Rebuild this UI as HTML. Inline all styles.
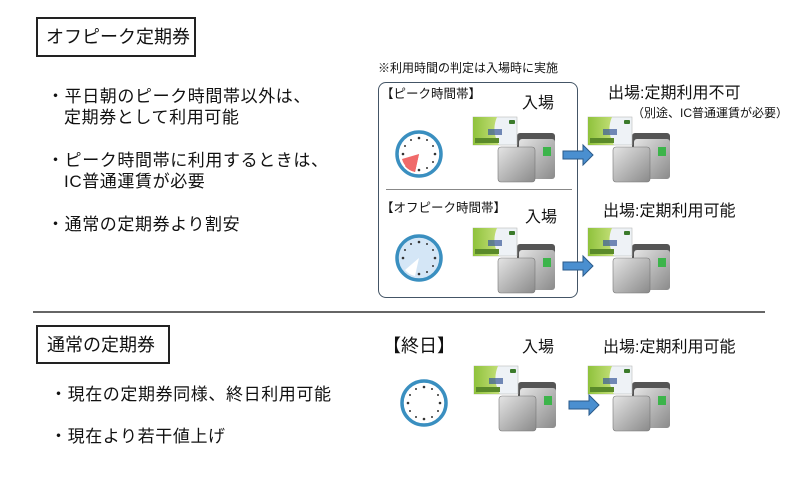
<!DOCTYPE html>
<html><head><meta charset="utf-8"><style>
body{margin:0;width:800px;height:489px;background:#fff;position:relative;overflow:hidden;font-family:"Liberation Sans","Noto Sans CJK JP",sans-serif;color:#111}
.t{position:absolute;white-space:nowrap;line-height:1}
.b{font-size:17px;letter-spacing:0.6px}
.box{position:absolute;border:2px solid #222;box-sizing:border-box}
</style></head><body>
<div class="box" style="left:36px;top:17px;width:160px;height:40px"></div>
<div class="t" style="left:46px;top:28px;font-size:18px">オフピーク定期券</div>
<div class="t b" style="left:47px;top:88px">・平日朝のピーク時間帯以外は、</div>
<div class="t b" style="left:64px;top:109px">定期券として利用可能</div>
<div class="t b" style="left:47px;top:152px">・ピーク時間帯に利用するときは、</div>
<div class="t b" style="left:64px;top:173px">IC普通運賃が必要</div>
<div class="t b" style="left:47px;top:216px">・通常の定期券より割安</div>
<div style="position:absolute;left:33px;top:311px;width:732px;height:2px;background:#666"></div>
<div class="box" style="left:36px;top:325px;width:134px;height:39px"></div>
<div class="t" style="left:47px;top:336px;font-size:18px">通常の定期券</div>
<div class="t b" style="left:50px;top:386px">・現在の定期券同様、終日利用可能</div>
<div class="t b" style="left:50px;top:428px">・現在より若干値上げ</div>

<div class="t" style="left:378px;top:62px;font-size:12px">※利用時間の判定は入場時に実施</div>
<div style="position:absolute;left:378px;top:82px;width:200px;height:216px;border:1.5px solid #456;border-radius:8px;box-sizing:border-box"></div>
<div style="position:absolute;left:386px;top:189px;width:186px;height:1px;background:#888"></div>
<div class="t" style="left:381px;top:88px;font-size:12.5px">【ピーク時間帯】</div>
<div class="t" style="left:381px;top:202px;font-size:12.5px">【オフピーク時間帯】</div>
<div class="t" style="left:522px;top:96px;font-size:16px">入場</div>
<div class="t" style="left:525px;top:210px;font-size:16px">入場</div>
<div class="t" style="left:608px;top:86px;font-size:16px">出場:定期利用不可</div>
<div class="t" style="left:632px;top:107px;font-size:12px">（別途、IC普通運賃が必要）</div>
<div class="t" style="left:603px;top:204px;font-size:16px">出場:定期利用可能</div>
<div class="t" style="left:383px;top:337px;font-size:18px">【終日】</div>
<div class="t" style="left:522px;top:340px;font-size:16px">入場</div>
<div class="t" style="left:603px;top:340px;font-size:16px">出場:定期利用可能</div>

<svg width="800" height="489" style="position:absolute;left:0;top:0">
<defs>
<linearGradient id="sil" x1="0" y1="0" x2="1" y2="1"><stop offset="0" stop-color="#e4e4e4"/><stop offset="1" stop-color="#8a8a8a"/></linearGradient>
<linearGradient id="gr" x1="0" y1="0" x2="1" y2="0"><stop offset="0" stop-color="#8fc23c"/><stop offset="1" stop-color="#c5e07a"/></linearGradient>
<g id="gate">
<rect x="44" y="16" width="38" height="45" rx="3" fill="#555"/>
<rect x="46" y="22" width="36" height="40" rx="3" fill="url(#sil)"/>
<rect x="70" y="30" width="8" height="9" fill="#3cb44a"/>
<rect x="25" y="30" width="37" height="35" rx="3" fill="url(#sil)" stroke="#777" stroke-width="0.6"/>
<rect x="0" y="0" width="44" height="28" fill="#eef2f6" stroke="#bbb" stroke-width="0.6"/>
<path d="M0 0 H24 Q18 14 26 28 H0Z" fill="url(#gr)"/>
<rect x="2" y="21" width="24" height="5" fill="#5a8a2a"/>
<rect x="15" y="12" width="14" height="6" fill="#3a5a9a" opacity="0.7"/>
<rect x="36" y="3" width="6" height="4" rx="1" fill="#3a7a2a"/>
</g>
<g id="arr"><polygon points="0,6 20,6 20,0 30,10 20,20 20,14 0,14" fill="#4a8fd0" stroke="#2a5a8a" stroke-width="1"/></g>
</defs>
<use href="#gate" x="473" y="117"/>
<use href="#gate" x="588" y="117"/>
<use href="#gate" x="473" y="228"/>
<use href="#gate" x="588" y="228"/>
<use href="#gate" x="474" y="366"/>
<use href="#gate" x="588" y="366"/>
<use href="#arr" x="563" y="145"/>
<use href="#arr" x="563" y="256"/>
<use href="#arr" x="569" y="395"/>
<!-- clocks -->
<g transform="translate(419,154)">
<circle r="22" fill="#fff" stroke="#3a8fc0" stroke-width="3.5"/>
<path d="M0 0 L-14 12 A18 18 0 0 0 -4 18 Z" fill="#e84040"/>
<path d="M0 0 L-17 5 A18 18 0 0 0 -4 18 Z" fill="#f06a6a"/>
<g fill="#333"><circle cx="0" cy="-16" r="1.3"/><circle cx="8" cy="-14" r="1"/><circle cx="14" cy="-8" r="1"/><circle cx="16" cy="0" r="1.3"/><circle cx="14" cy="8" r="1"/><circle cx="8" cy="14" r="1"/><circle cx="0" cy="16" r="1.3"/><circle cx="-8" cy="-14" r="1"/><circle cx="-14" cy="-8" r="1"/><circle cx="-16" cy="0" r="1.3"/></g>
</g>
<g transform="translate(419,258)">
<circle r="22" fill="#d4e6f6" stroke="#3a8fc0" stroke-width="3.5"/>
<path d="M0 0 L-14 12 A18 18 0 0 0 -4 18 Z" fill="#fff"/>
<g fill="#333"><circle cx="0" cy="-16" r="1.3"/><circle cx="8" cy="-14" r="1"/><circle cx="14" cy="-8" r="1"/><circle cx="16" cy="0" r="1.3"/><circle cx="14" cy="8" r="1"/><circle cx="8" cy="14" r="1"/><circle cx="0" cy="16" r="1.3"/><circle cx="-8" cy="-14" r="1"/><circle cx="-14" cy="-8" r="1"/><circle cx="-16" cy="0" r="1.3"/></g>
</g>
<g transform="translate(424,403)">
<circle r="22" fill="#fff" stroke="#3a8fc0" stroke-width="3.5"/>
<g fill="#333"><circle cx="0" cy="-16" r="1.3"/><circle cx="8" cy="-14" r="1"/><circle cx="14" cy="-8" r="1"/><circle cx="16" cy="0" r="1.3"/><circle cx="14" cy="8" r="1"/><circle cx="8" cy="14" r="1"/><circle cx="0" cy="16" r="1.3"/><circle cx="-8" cy="14" r="1"/><circle cx="-14" cy="8" r="1"/><circle cx="-8" cy="-14" r="1"/><circle cx="-14" cy="-8" r="1"/><circle cx="-16" cy="0" r="1.3"/></g>
</g>
</svg>
</body></html>
